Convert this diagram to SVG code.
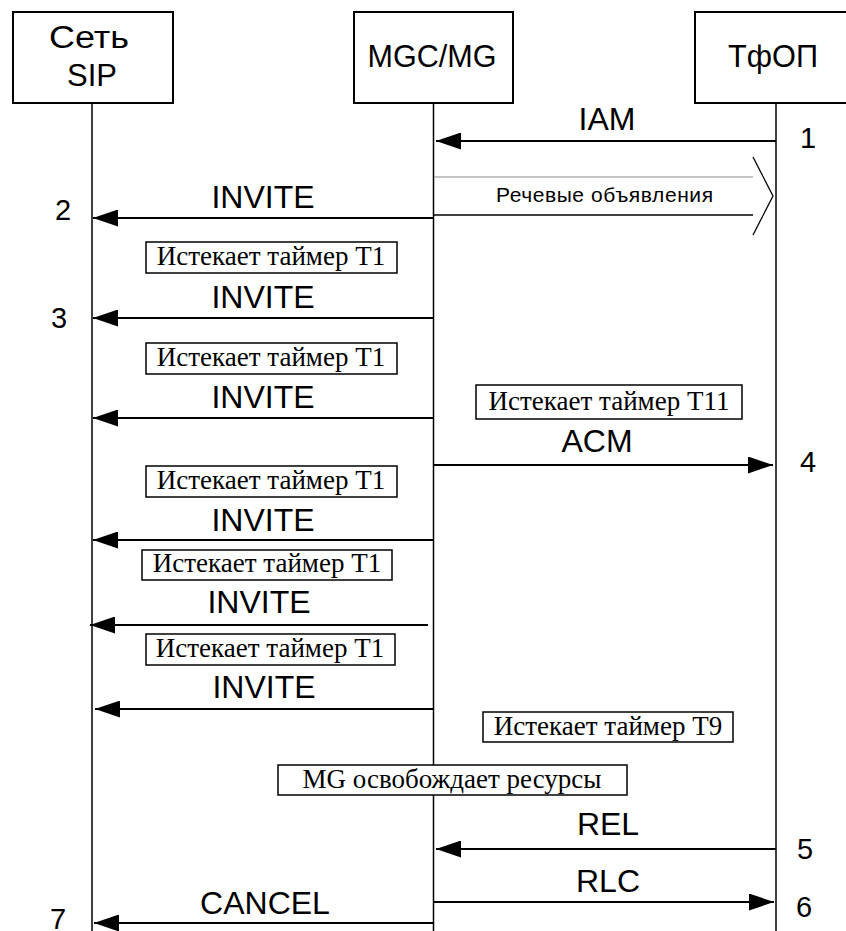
<svg xmlns="http://www.w3.org/2000/svg" width="846" height="931" viewBox="0 0 846 931">
<style>
.box{fill:#fff;stroke:#000;stroke-width:2}
.life{stroke:#000;stroke-width:1.5;fill:none}
.msg{stroke:#000;stroke-width:2;fill:none}
.hdr{font-family:"Liberation Sans",Arial,sans-serif;font-size:31px;text-anchor:middle;fill:#000}
.lbl{font-family:"Liberation Sans",Arial,sans-serif;font-size:32px;text-anchor:middle;fill:#000}
.num{font-family:"Liberation Sans",Arial,sans-serif;font-size:29px;text-anchor:middle;fill:#000}
.note{fill:#fff;stroke:#000;stroke-width:1.5}
.nt{font-family:"Liberation Serif","Times New Roman",serif;font-size:27px;text-anchor:middle;fill:#000}
.sm{font-family:"Liberation Sans",Arial,sans-serif;font-size:21px;fill:#000}
</style>
<defs>
<marker id="ah" markerUnits="userSpaceOnUse" markerWidth="25" markerHeight="17" refX="25" refY="8.5" orient="auto">
<path d="M0,0 L25,8.5 L0,17 z" fill="#000"/>
</marker>
</defs>
<rect width="846" height="931" fill="#fff"/>

<g id="node-sip">
<rect class="box" x="13" y="12" width="160" height="91"/>
<text class="hdr" x="89" y="48" font-size="29" textLength="80" lengthAdjust="spacingAndGlyphs">Сеть</text>
<text class="hdr" x="92" y="86" font-size="29">SIP</text>
</g>
<g id="node-mgc">
<rect class="box" x="354" y="12" width="159" height="91"/>
<text class="hdr" x="432" y="67" font-size="33" textLength="129" lengthAdjust="spacingAndGlyphs">MGC/MG</text>
</g>
<g id="node-pstn">
<rect class="box" x="695" y="12" width="160" height="91"/>
<text class="hdr" x="773" y="67" font-size="33" textLength="90" lengthAdjust="spacingAndGlyphs">ТфОП</text>
</g>

<g id="lifelines">
<line class="life" x1="92" y1="103" x2="92" y2="931"/>
<line class="life" x1="433.5" y1="103" x2="433.5" y2="931"/>
<line class="life" x1="776" y1="103" x2="776" y2="931"/>
</g>

<g id="connectors">
<line class="msg" x1="776" y1="141" x2="436" y2="141" marker-end="url(#ah)"/>
<line x1="434" y1="177" x2="753" y2="177" stroke="#888" stroke-width="1.2"/>
<line x1="434" y1="215" x2="753" y2="215" stroke="#000" stroke-width="1.3"/>
<polyline points="753,157 773,196 753,235" fill="none" stroke="#000" stroke-width="1.3"/>
<line class="msg" x1="433" y1="218" x2="93" y2="218" marker-end="url(#ah)"/>
<line class="msg" x1="433" y1="318" x2="93" y2="318" marker-end="url(#ah)"/>
<line class="msg" x1="433" y1="418" x2="93" y2="418" marker-end="url(#ah)"/>
<line class="msg" x1="434" y1="465" x2="773" y2="465" marker-end="url(#ah)"/>
<line class="msg" x1="433" y1="540" x2="93" y2="540" marker-end="url(#ah)"/>
<line class="msg" x1="428" y1="625" x2="90" y2="625" marker-end="url(#ah)"/>
<line class="msg" x1="433" y1="709" x2="95" y2="709" marker-end="url(#ah)"/>
<line class="msg" x1="776" y1="849" x2="436" y2="849" marker-end="url(#ah)"/>
<line class="msg" x1="434" y1="902" x2="774" y2="902" marker-end="url(#ah)"/>
<line class="msg" x1="433" y1="923" x2="94" y2="923" marker-end="url(#ah)"/>
</g>

<g id="labels">
<text class="lbl" x="607" y="130">IAM</text>
<text class="sm" x="496" y="202" textLength="217" lengthAdjust="spacing">Речевые объявления</text>
<text class="lbl" x="263" y="208">INVITE</text>
<text class="lbl" x="263" y="308">INVITE</text>
<text class="lbl" x="263" y="408">INVITE</text>
<text class="lbl" x="597" y="452">ACM</text>
<text class="lbl" x="263" y="531">INVITE</text>
<text class="lbl" x="259" y="613">INVITE</text>
<text class="lbl" x="264" y="698">INVITE</text>
<text class="lbl" x="608" y="835">REL</text>
<text class="lbl" x="608" y="892">RLC</text>
<text class="lbl" x="265" y="914">CANCEL</text>
<text class="num" x="808" y="148">1</text>
<text class="num" x="63" y="220">2</text>
<text class="num" x="59" y="328">3</text>
<text class="num" x="808" y="472">4</text>
<text class="num" x="805" y="859">5</text>
<text class="num" x="804" y="917">6</text>
<text class="num" x="58" y="929">7</text>
</g>

<g id="note-t1-a">
<rect class="note" x="146" y="242" width="251" height="31"/>
<text class="nt" x="271" y="265">Истекает таймер T1</text>
</g>
<g id="note-t1-b">
<rect class="note" x="146" y="343" width="251" height="31"/>
<text class="nt" x="271" y="366">Истекает таймер T1</text>
</g>
<g id="note-t11">
<rect class="note" x="476" y="385" width="266" height="34"/>
<text class="nt" x="609" y="410">Истекает таймер T11</text>
</g>
<g id="note-t1-c">
<rect class="note" x="146" y="466" width="251" height="31"/>
<text class="nt" x="271" y="489">Истекает таймер T1</text>
</g>
<g id="note-t1-d">
<rect class="note" x="142" y="550" width="250" height="30"/>
<text class="nt" x="267" y="572">Истекает таймер T1</text>
</g>
<g id="note-t1-e">
<rect class="note" x="146" y="634" width="249" height="31"/>
<text class="nt" x="270" y="657">Истекает таймер T1</text>
</g>
<g id="note-t9">
<rect class="note" x="483" y="712" width="250" height="30"/>
<text class="nt" x="608" y="735">Истекает таймер T9</text>
</g>
<g id="note-mg">
<rect class="note" x="278" y="765" width="349" height="30"/>
<text class="nt" x="452" y="788">MG освобождает ресурсы</text>
</g>
</svg>
